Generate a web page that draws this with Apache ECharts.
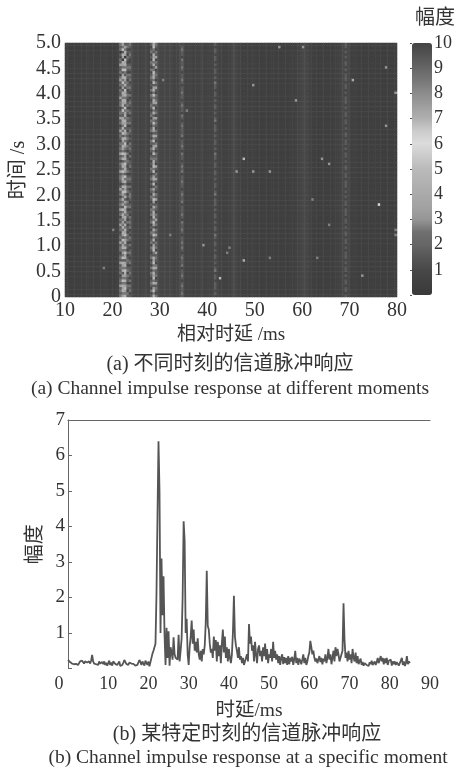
<!DOCTYPE html>
<html><head><meta charset="utf-8">
<style>html,body{margin:0;padding:0;background:#fff}#c{width:457px;height:769px;filter:blur(0.45px)}</style>
<script src="https://cdn.jsdelivr.net/npm/echarts@6/dist/echarts.min.js"></script>
</head><body><div id="c"></div>
<script>
const FONT='"Liberation Serif","Noto Sans CJK SC",serif';
const INK='#333';
// Panel (a): delay bins 10..79.5 ms in 0.5 ms steps; time bins 0..4.95 s in 0.05 s steps
const delayBinStart=10, delayBinStep=0.5, timeBinStep=0.05;
const delayBinCount=140, timeBinCount=100;
const columnLevel=[
.45,.45,.4,.4,.4,.4,.45,.45,.45,.5,
.5,.45,.45,.4,.4,.5,.5,.45,.45,.4,
.45,.5,.7,1.1,1.5,2,2,1.4,1.1,.9,
.9,.7,.8,.8,1,.7,.9,1.5,1.5,1.1,
.9,.9,1,.8,1,.8,.7,.7,1.2,1.8,
.9,.7,.7,.7,.6,.6,.7,.9,.7,.6,
.6,.7,.9,1.8,.9,.6,.6,.55,.55,.6,
.9,1.1,.8,.6,.55,.55,.5,.5,.55,.5,
.5,.5,.45,.45,.5,.45,.45,.45,.5,.45,
.45,.45,.45,.45,.45,.45,.5,.55,.7,.9,
1,1,.9,.6,.5,.45,.45,.45,.5,.45,
.45,.45,.45,.5,.5,.6,.8,1,1.7,1,
.6,.5,.45,.45,.45,.45,.4,.4,.45,.4,
.4,.4,.45,.4,.4,.45,.4,.4,.4,.45];
// Cell-by-cell amplitude digits read along the brightest strips, bottom row first
const stripDelays=[21.5,22,22.5,23,23.5,29,28.5,28,34.5,41.5,69];
const stripScale=.85;
const stripRows=[
"3232423213 2324232133 2423213242 3132423231 3242123324 2231324232 3123242132 4232133242 2313243132 2423120323",
"4354536342 5345263435 4362453534 3453624353 4635245436 3542536345 3452635345 4236354534 5243635426 3450452634",
"5346435345 6354254635 3543645352 4535463425 3645353624 5463545234 6353452645 3543624535 4625345236 3546045342",
"2312312231 3212321312 2132312213 1232132312 1323123213 2123213123 1232312132 3123132123 2132312312 3212312132",
"2132313123 2213212321 3123121323 2312132123 3213123212 1322131232 3121232132 2132123213 1232132312 3211232123",
"3123242132 2431232413 2312423132 4231232142 3123124231 2412323124 3124231232 4132124323 1242312321 4231423123",
"5364253645 3536452365 4253635246 3645352463 5342635426 3645326354 2635245363 4253624536 3542635463 2536452365",
"2131232123 1312132123 1321231213 2132312123 1231213212 3121321231 2312132123 1321232123 1312123213 1231213212",
"2322321232 2132232123 2322123223 1232221322 3212232213 2321223123 2213222321 2312232122 3221232212 3223122321",
"1212221221 3212122121 2212312212 1221212221 3212212122 1221223121 2212122213 2121221212 2122312122 1212212212",
"2122122121 2212122212 1221221212 2122212212 1212221221 2212122121 2212212122 1221212221 2122122212 1221212122"
];
// Isolated bright cells: delay ms, time s, amplitude
const spotDelays=[55.1,60.3,77.8,70.9,30.5,49.6,79.8,58.5,35.5,77.9,47.8,64,65.6,46.2,49.6,53.1,76.1,62,65.6,20.2,32.4,39,44.5,44.4,47.8,53.3,63.3,18.2,42.9,72.7,79.8,79.8];
const spotTimes=[4.9,4.9,4.5,4.25,4.25,4.15,4,3.85,3.65,3.35,2.7,2.7,2.6,2.45,2.45,2.45,1.8,1.9,1.4,1.3,1.2,1,.95,.85,.7,.75,.75,.55,.35,.4,1.3,1.2];
const spotLevels=[3,3,3,4,2.7,3,3,3,2.7,3,5,3,3,3,3,3,6,2.7,2.7,2.7,2.7,3,2.7,2.7,4,2.7,2.7,2.7,5,3,2.7,2.7];
const heatYTicks=[0,.5,1,1.5,2,2.5,3,3.5,4,4.5,5];
const colorbarTicks=[1,2,3,4,5,6,7,8,9,10];
const colorStops=['#3a3a3a','#404040','#484848','#565656','#666666','#707070','#969696','#a2a2a2','#aaaaaa','#b2b2b2','#bababa','#cacaca','#dcdcdc','#cccccc','#b0b0b0','#9e9e9e','#8c8c8c','#787878','#666666','#545454','#444444'];

// Panel (b): amplitude sampled every 0.25 ms from 0 ms
const responseStep=0.25;
const responseAmplitude=[
.24,.2,.18,.16, .14,.18,.12,.1, .13,.17,.1,.14, .2,.16,.22,.18, .14,.2,.25,.17,
.12,.2,.14,.22, .38,.2,.14,.18, .12,.17,.1,.2, .14,.09,.18,.12, .2,.1,.16,.08,
.15,.22,.1,.17, .08,.2,.24,.13, .18,.1,.14,.2, .07,.12,.1,.16, .24,.2,.13,.15,
.1,.17,.12,.14, .09,.13,.11,.08, .12,.1,.14,.24, .18,.1,.2,.14, .08,.22,.16,.1,
.2,.06,.18,.22, .42,.5,.55,.7, 2.1,4.3,6.4,5, 1,3.1,1.5,2.6, .95,.1,1.15,.3,
1.05,.08,.6,.45, .25,.88,.4,.3, .35,.25,.95,.2, .5,.85,2,4.15, 3.6,1,1.4,.4,
.1,.6,.9,1.35, .7,1.1,.5,.75, .45,.85,.4,.25, .5,.2,.55,.4, .65,1.3,2.75,1.2,
1.1,.7,.45,.55, .3,.9,.5,.8, .2,.75,.35,.65, .15,.7,1.1,.45, .9,.3,.6,.2,
.55,.3,.15,.4, 1,2.05,.9,.65, .5,.3,.6,.25, .35,.15,.3,.1, .2,.25,.4,.2,
1.25,.7,.9,.5, .65,.2,.75,.4, .15,.55,.65,.35, .5,.2,.6,.35, .7,.25,.55,.15,
.4,.3,.55,.2, .75,.3,.5,.25, .4,.15,.35,.1, .3,.4,.12,.32, .15,.3,.1,.35,
.12,.3,.2,.33, .1,.25,.5,.15, .3,.1,.28,.22, .12,.25,.4,.15, .3,.1,.2,.35,
.45,.78,.6,.4, .5,.3,.2,.28, .15,.25,.35,.18, .3,.12,.28,.2, .4,.15,.3,.55,
.25,.4,.12,.3, .5,.2,.6,.35, .55,.4,.2,.3, .35,.5,1.84,.8, .3,.45,.2,.5,
.25,.4,.15,.55, .3,.2,.45,.15, .35,.12,.2,.28, .1,.18,.08,.15, .2,.1,.15,.07,
.18,.12,.22,.1, .13,.2,.1,.18, .3,.15,.25,.35, .2,.3,.12,.28, .15,.3,.1,.22,
.17,.25,.08,.2, .12,.2,.1,.18, .22,.08,.15,.12, .3,.1,.2,.07, .15,.35,.12,.2, .15];

const delayCats=Array.from({length:delayBinCount},(_,i)=>delayBinStart+i*delayBinStep);
const timeCats=Array.from({length:timeBinCount},(_,i)=>i*timeBinStep);
const cells=[];
const stripByCol={};
stripDelays.forEach((d,k)=>{stripByCol[Math.round((d-delayBinStart)/delayBinStep)]=stripRows[k].replace(/ /g,'')});
const spotKey={};
spotDelays.forEach((d,k)=>{spotKey[Math.floor((d-delayBinStart)/delayBinStep)+'_'+Math.round(spotTimes[k]/timeBinStep)]=spotLevels[k]});
for(let c=0;c<delayBinCount;c++)for(let r=0;r<timeBinCount;r++){
  let v=columnLevel[c];
  if(stripByCol[c])v=+stripByCol[c][r]*stripScale;
  const s=spotKey[c+'_'+r];
  if(s!==undefined)v=s;
  cells.push([c,r,v]);
}
const line=responseAmplitude.map((v,i)=>[i*responseStep,v]);

const lbl=(size,extra)=>Object.assign({color:INK,fontFamily:FONT,fontSize:size},extra||{});
const chart=echarts.init(document.getElementById('c'),null,{renderer:'canvas'});
const T=(text,x,y,size)=>({type:'text',x,y,style:{text,fill:INK,font:size+'px '+FONT,textAlign:'center',textVerticalAlign:'middle'}});
chart.setOption({
  animation:false,backgroundColor:'#fff',
  grid:[
    {left:65,top:43,width:332,height:254,outerBoundsMode:'none'},
    {left:68,top:420,width:362,height:248.5,outerBoundsMode:'none'},
    {left:412,top:43,width:20,height:252,outerBoundsMode:'none'}
  ],
  xAxis:[
    {gridIndex:0,type:'category',data:delayCats,show:false},
    {gridIndex:0,type:'value',min:10,max:80,interval:10,position:'bottom',splitLine:{show:false},axisLine:{show:false},axisTick:{show:false},
     axisLabel:lbl(20,{margin:4,showMinLabel:true,showMaxLabel:true,hideOverlap:false}),
     name:'相对时延 /ms',nameLocation:'middle',nameMoveOverlap:false,nameGap:29,nameTextStyle:lbl(19)},
    {gridIndex:1,type:'value',min:0,max:90,interval:10,splitLine:{show:false},axisLine:{show:false},axisTick:{show:false},
     axisLabel:lbl(18,{margin:7,alignMinLabel:'right',hideOverlap:false,formatter:v=>v===0?'0\u00a0':String(v)}),
     name:'时延/ms',nameLocation:'middle',nameMoveOverlap:false,nameGap:33,nameTextStyle:lbl(19.5)},
    {gridIndex:1,type:'value',min:0,max:90,position:'top',splitLine:{show:false},axisLine:{show:true,lineStyle:{color:'#666',width:1}},axisTick:{show:false},axisLabel:{show:false}},
    {gridIndex:2,type:'value',min:0,max:1,show:false}
  ],
  yAxis:[
    {gridIndex:0,type:'category',data:timeCats,show:false},
    {gridIndex:0,type:'value',position:'left',min:0,max:5,interval:.5,splitLine:{show:false},axisLine:{show:false},axisTick:{show:false},
     axisLabel:lbl(20,{margin:4,hideOverlap:false,formatter:v=>heatYTicks.includes(v)?(v===0?'0':v.toFixed(1)):''}),
     name:'时间 /s',nameLocation:'middle',nameMoveOverlap:false,nameGap:36,nameTextStyle:lbl(20)},
    {gridIndex:1,type:'value',min:0,max:7,interval:1,splitLine:{show:false},axisLine:{show:true,lineStyle:{color:'#666',width:1}},
     axisTick:{show:true,inside:true,length:4,lineStyle:{color:'#666'}},
     axisLabel:lbl(19,{margin:3,hideOverlap:false,formatter:v=>v===0?'':String(v)}),
     name:'幅度',nameLocation:'middle',nameMoveOverlap:false,nameGap:22,nameTextStyle:lbl(20)},
    {gridIndex:2,type:'value',min:0,max:10,interval:1,position:'right',splitLine:{show:false},axisLine:{show:false},
     axisTick:{show:true,inside:true,length:2,lineStyle:{color:'#555'}},
     axisLabel:lbl(18,{margin:2,hideOverlap:false,formatter:v=>colorbarTicks.includes(v)?String(v):''})}
  ],
  visualMap:{type:'continuous',seriesIndex:0,dimension:2,min:0,max:10,left:412,top:43,itemWidth:20,itemHeight:252,padding:0,text:null,showLabel:false,calculable:false,hoverLink:false,
    inRange:{color:colorStops}},
  series:[
    {type:'heatmap',xAxisIndex:0,yAxisIndex:0,data:cells,progressive:0,silent:true,itemStyle:{borderWidth:0}},
    {type:'line',xAxisIndex:2,yAxisIndex:2,data:line,showSymbol:false,symbol:'none',lineStyle:{color:'#555',width:1.8},silent:true}
  ],
  graphic:[
    T('幅度',435,19,20),
    T('(a) 不同时刻的信道脉冲响应',230,365,20),
    T('(a) Channel impulse response at different moments',230,389,19.5),
    T('(b) 某特定时刻的信道脉冲响应',247,735,20),
    T('(b) Channel impulse response at a specific moment',248,758,19.5)
  ]
});
</script></body></html>
